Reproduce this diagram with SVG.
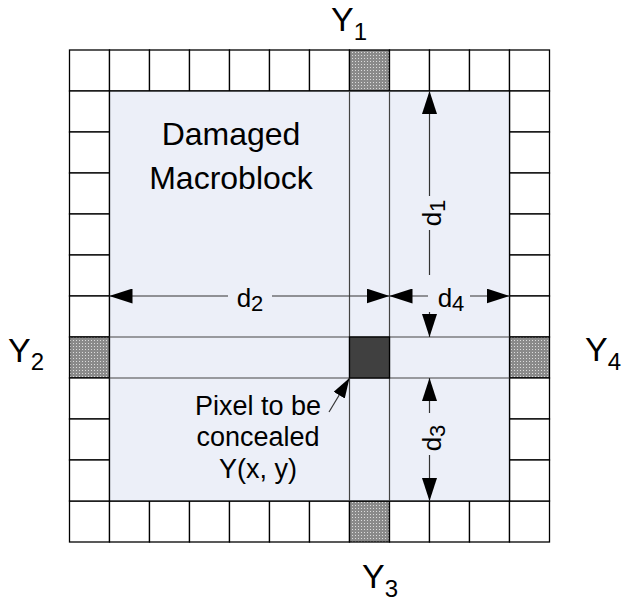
<svg xmlns="http://www.w3.org/2000/svg" width="625" height="601" viewBox="0 0 625 601">
<defs>
<pattern id="dots" width="3" height="3" patternUnits="userSpaceOnUse">
<rect width="3" height="3" fill="#8a8a8a"/>
<rect x="1" y="1" width="1" height="1" fill="#dcdcdc"/>
</pattern>
<marker id="ah" markerUnits="userSpaceOnUse" markerWidth="23" markerHeight="15" viewBox="0 0 23 15" refX="23" refY="7.5" orient="auto">
<path d="M0,0 L23,7.5 L0,15 z" fill="#000"/>
</marker>
<marker id="ahs" markerUnits="userSpaceOnUse" markerWidth="20" markerHeight="13" viewBox="0 0 20 13" refX="20" refY="6.5" orient="auto">
<path d="M0,0 L20,6.5 L0,13 z" fill="#000"/>
</marker>
</defs>
<style>
.cell{fill:#fff;stroke:#000;stroke-width:1.3}
.hat{fill:url(#dots);stroke:#000;stroke-width:1.3}
.inner{fill:#ECEFF8;stroke:#000;stroke-width:1.3}
.il{stroke:#444;stroke-width:1.2;fill:none}
.ar{stroke:#333;stroke-width:1.2;fill:none;marker-end:url(#ah)}
.ln{stroke:#333;stroke-width:1.2;fill:none}
text{font-family:"Liberation Sans",Arial,sans-serif;fill:#000}
.big{font-size:34px}
.bsub{font-size:24px}
.lab{font-size:26px}
.lsub{font-size:22px}
.t1{font-size:32px}
.t2{font-size:27px}
</style>
<g id="grid">
<g id="top-row">
<rect class="cell" x="69.5" y="50" width="40" height="41"/>
<rect class="cell" x="109.5" y="50" width="40" height="41"/>
<rect class="cell" x="149.5" y="50" width="40" height="41"/>
<rect class="cell" x="189.5" y="50" width="40" height="41"/>
<rect class="cell" x="229.5" y="50" width="40" height="41"/>
<rect class="cell" x="269.5" y="50" width="40" height="41"/>
<rect class="cell" x="309.5" y="50" width="40" height="41"/>
<rect class="hat" x="349.5" y="50" width="40" height="41"/>
<rect class="cell" x="389.5" y="50" width="40" height="41"/>
<rect class="cell" x="429.5" y="50" width="40" height="41"/>
<rect class="cell" x="469.5" y="50" width="40" height="41"/>
<rect class="cell" x="509.5" y="50" width="40" height="41"/>
</g>
<g id="bottom-row">
<rect class="cell" x="69.5" y="501" width="40" height="41"/>
<rect class="cell" x="109.5" y="501" width="40" height="41"/>
<rect class="cell" x="149.5" y="501" width="40" height="41"/>
<rect class="cell" x="189.5" y="501" width="40" height="41"/>
<rect class="cell" x="229.5" y="501" width="40" height="41"/>
<rect class="cell" x="269.5" y="501" width="40" height="41"/>
<rect class="cell" x="309.5" y="501" width="40" height="41"/>
<rect class="hat" x="349.5" y="501" width="40" height="41"/>
<rect class="cell" x="389.5" y="501" width="40" height="41"/>
<rect class="cell" x="429.5" y="501" width="40" height="41"/>
<rect class="cell" x="469.5" y="501" width="40" height="41"/>
<rect class="cell" x="509.5" y="501" width="40" height="41"/>
</g>
<g id="left-col">
<rect class="cell" x="69.5" y="91" width="40" height="41"/>
<rect class="cell" x="69.5" y="132" width="40" height="41"/>
<rect class="cell" x="69.5" y="173" width="40" height="41"/>
<rect class="cell" x="69.5" y="214" width="40" height="41"/>
<rect class="cell" x="69.5" y="255" width="40" height="41"/>
<rect class="cell" x="69.5" y="296" width="40" height="41"/>
<rect class="hat" x="69.5" y="337" width="40" height="41"/>
<rect class="cell" x="69.5" y="378" width="40" height="41"/>
<rect class="cell" x="69.5" y="419" width="40" height="41"/>
<rect class="cell" x="69.5" y="460" width="40" height="41"/>
</g>
<g id="right-col">
<rect class="cell" x="509.5" y="91" width="40" height="41"/>
<rect class="cell" x="509.5" y="132" width="40" height="41"/>
<rect class="cell" x="509.5" y="173" width="40" height="41"/>
<rect class="cell" x="509.5" y="214" width="40" height="41"/>
<rect class="cell" x="509.5" y="255" width="40" height="41"/>
<rect class="cell" x="509.5" y="296" width="40" height="41"/>
<rect class="hat" x="509.5" y="337" width="40" height="41"/>
<rect class="cell" x="509.5" y="378" width="40" height="41"/>
<rect class="cell" x="509.5" y="419" width="40" height="41"/>
<rect class="cell" x="509.5" y="460" width="40" height="41"/>
</g>
</g>
<g id="macroblock">
<rect class="inner" x="109.5" y="91" width="400" height="410"/>
<line class="il" x1="349.5" y1="91" x2="349.5" y2="501"/>
<line class="il" x1="389.5" y1="91" x2="389.5" y2="501"/>
<line class="il" x1="109.5" y1="337" x2="509.5" y2="337"/>
<line class="il" x1="109.5" y1="378" x2="509.5" y2="378"/>
<text class="t1" x="231" y="145" text-anchor="middle">Damaged</text>
<text class="t1" x="231" y="189" text-anchor="middle">Macroblock</text>
</g>
<g id="pixel">
<rect x="349.5" y="337" width="40" height="41" fill="#404040" stroke="#000" stroke-width="1.3"/>
<text class="t2" x="258" y="415" text-anchor="middle">Pixel to be</text>
<text class="t2" x="258" y="446" text-anchor="middle">concealed</text>
<text class="t2" x="258" y="478" text-anchor="middle">Y(x, y)</text>
</g>
<g id="labels">
<text class="big" x="331" y="31">Y<tspan class="bsub" dy="9">1</tspan></text>
<text class="big" x="8" y="362">Y<tspan class="bsub" dy="8">2</tspan></text>
<text class="big" x="362" y="588">Y<tspan class="bsub" dy="9">3</tspan></text>
<text class="big" x="585" y="361">Y<tspan class="bsub" dy="9">4</tspan></text>
</g>
<g id="connectors">
<line class="ar" x1="429.5" y1="196" x2="429.5" y2="91"/>
<line class="ln" x1="429.5" y1="230" x2="429.5" y2="275"/>
<line class="ar" x1="429.5" y1="312" x2="429.5" y2="337"/>
<line class="ar" x1="228" y1="296" x2="109.5" y2="296"/>
<line class="ar" x1="272" y1="296" x2="389.5" y2="296"/>
<line class="ar" x1="428" y1="296" x2="389.5" y2="296"/>
<line class="ar" x1="470" y1="296" x2="509.5" y2="296"/>
<line class="ar" x1="429.5" y1="413" x2="429.5" y2="378"/>
<line class="ar" x1="429.5" y1="455" x2="429.5" y2="501"/>
<line class="ln" x1="329" y1="412" x2="349.5" y2="378" style="marker-end:url(#ahs)"/>
</g>
<g id="dim-labels">
<text class="lab" transform="translate(441,213) rotate(-90)" text-anchor="middle">d<tspan class="lsub" dy="4">1</tspan></text>
<text class="lab" x="250" y="307" text-anchor="middle">d<tspan class="lsub" dy="4">2</tspan></text>
<text class="lab" transform="translate(441,438) rotate(-90)" text-anchor="middle">d<tspan class="lsub" dy="4">3</tspan></text>
<text class="lab" x="451" y="307" text-anchor="middle">d<tspan class="lsub" dy="4">4</tspan></text>
</g>
</svg>
